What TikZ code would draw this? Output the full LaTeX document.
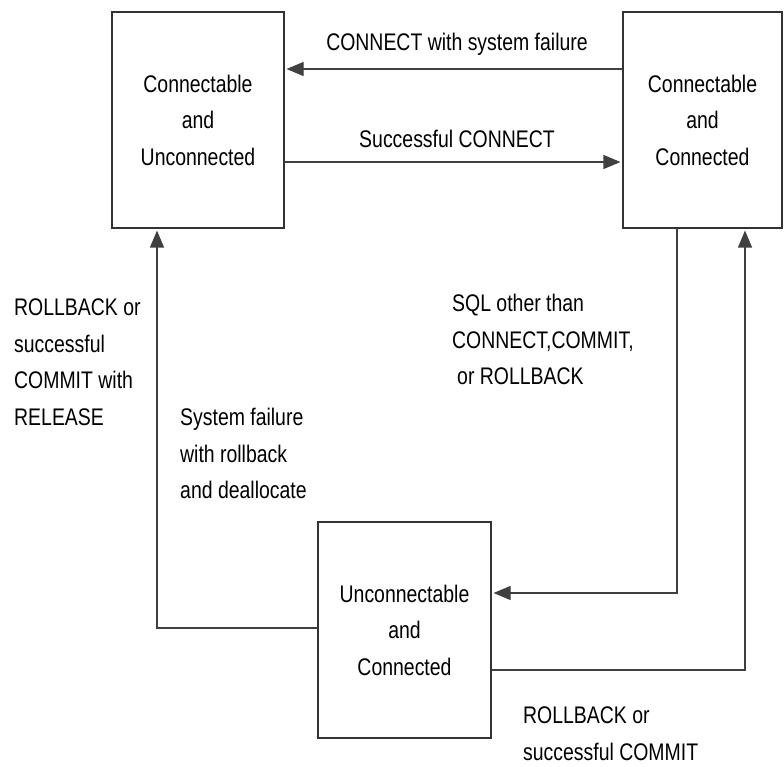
\documentclass[tikz,border=0pt]{standalone}
\usepackage{fontspec}
\setmainfont[FakeStretch=0.81]{Liberation Sans}
\usetikzlibrary{arrows.meta}
\newcommand\lblfont{\fontsize{24}{36.5}\selectfont}
\begin{document}
\begin{tikzpicture}[x=1pt,y=-1pt,
  box/.style={draw=black!80, line width=1.1pt, rectangle, inner sep=0pt, align=center, font=\lblfont},
  lbl/.style={inner sep=0pt, align=left, anchor=north west, font=\lblfont},
  edgelbl/.style={inner sep=0pt, anchor=base, font=\lblfont},
  arr/.style={draw=black!75, line width=1.1pt, -{Triangle[length=17pt,width=14pt]}, shorten >=2pt}]
\useasboundingbox (0,0) rectangle (784,767);
\node[box, minimum width=172pt, minimum height=216pt] (A) at (198,120) {Connectable\\and\\Unconnected};
\node[box, minimum width=159pt, minimum height=216pt] (B) at (702.5,120) {Connectable\\and\\Connected};
\node[box, minimum width=173pt, minimum height=216pt] (C) at (404.5,630) {Unconnectable\\and\\Connected};
\draw[arr] ([yshift=51pt]B.west) -- ([yshift=51pt]A.east);
\draw[arr] ([yshift=-42pt]A.east) -- ([yshift=-42pt]B.west);
\draw[arr] ([xshift=-25.5pt]B.south) |- ([yshift=37pt]C.east);
\draw[arr] ([yshift=-40pt]C.east) -| ([xshift=42.5pt]B.south);
\draw[arr] ([yshift=2pt]C.west) -| ([xshift=-41pt]A.south);
\node[edgelbl] (t1) at (457,51) {CONNECT with system failure};
\node[edgelbl] (t2) at (457,148) {Successful CONNECT};
\node[lbl] (l1) at (14,299) {ROLLBACK or\\successful\\COMMIT with\\RELEASE};
\node[lbl] (l2) at (180,408) {System failure\\with rollback\\and deallocate};
\node[lbl] (l3) at (452,294) {SQL other than\\CONNECT,COMMIT,\\\hspace*{5pt}or ROLLBACK};
\node[lbl] (l4) at (523,707) {ROLLBACK or\\successful COMMIT};
\end{tikzpicture}
\end{document}
